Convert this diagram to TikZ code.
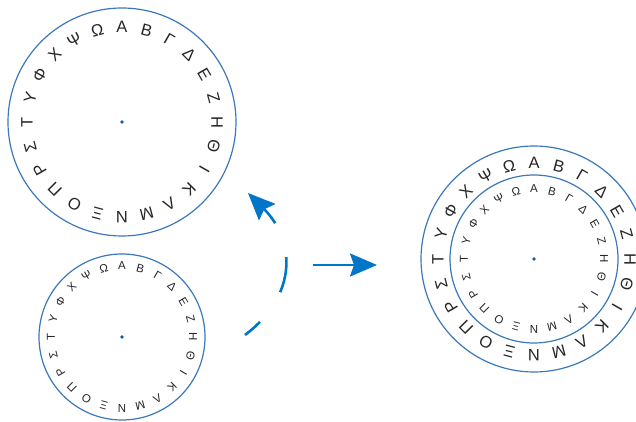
\documentclass[tikz,border=0pt]{standalone}
\usepackage{fontspec}
\setmainfont{Liberation Sans}
\usetikzlibrary{arrows.meta}

\definecolor{ringblue}{RGB}{58,120,185}
\definecolor{arrowblue}{RGB}{0,118,200}
\definecolor{dotblue}{RGB}{20,90,160}

\tikzset{
	ring/.style={draw=ringblue, line width=1.2pt},
	hub/.style={circle, fill=dotblue, inner sep=0pt, minimum size=3.6pt},
	glyph/.style={inner sep=0pt, text=black!85},
	flow/.style={draw=arrowblue, line width=2.6pt, -{Stealth[length=27pt, width=23pt, inset=4pt]}}
}

\newcommand{\alphabet}{Α,Β,Γ,Δ,Ε,Ζ,Η,Θ,Ι,Κ,Λ,Μ,Ν,Ξ,Ο,Π,Ρ,Σ,Τ,Υ,Φ,Χ,Ψ,Ω}
% #1 name, #2 hub node, #3 letter radius, #4 font size
\newcommand{\greekring}[4]{%
	\foreach \g [count=\i from 0] in \alphabet
		\node[glyph, font=\fontsize{#4}{#4}\selectfont, rotate=-15*\i] (#1-\i) at ([shift={(90-15*\i:#3)}]#2) {\g};
}

\begin{document}
\begin{tikzpicture}[x=1pt, y=1pt]
		\clip (0,0) rectangle (636,422);
		% outer wheel
		\node[hub] (big) at (122,300){};
		\draw[ring] (big) circle (114);
		\greekring{bigl}{big}{95}{16.5pt}
		% inner wheel
		\node[hub] (small) at (122,85){};
		\draw[ring] (small) circle (83);
		\greekring{smalll}{small}{71}{11.5pt}
		% both wheels together
		\node[hub] (both) at (534,163){};
		\draw[ring] (both) circle (113);
		\draw[ring] (both) circle (84);
		\greekring{bothout}{both}{96}{16.5pt}
		\greekring{bothin}{both}{70}{11.5pt}
		% arrows
		\coordinate (lo) at (245,87);
		\coordinate (hi) at (248,229);
		\draw[flow, dash pattern=on 36pt off 36pt, dash phase=16pt] (lo) to[out=37, in=-45, looseness=1.2] (hi);
		\coordinate (go) at (313,157);
		\coordinate (arrowend) at (377,157);
		\draw[flow] (go) -- (arrowend);
		\end{tikzpicture}
\end{document}
